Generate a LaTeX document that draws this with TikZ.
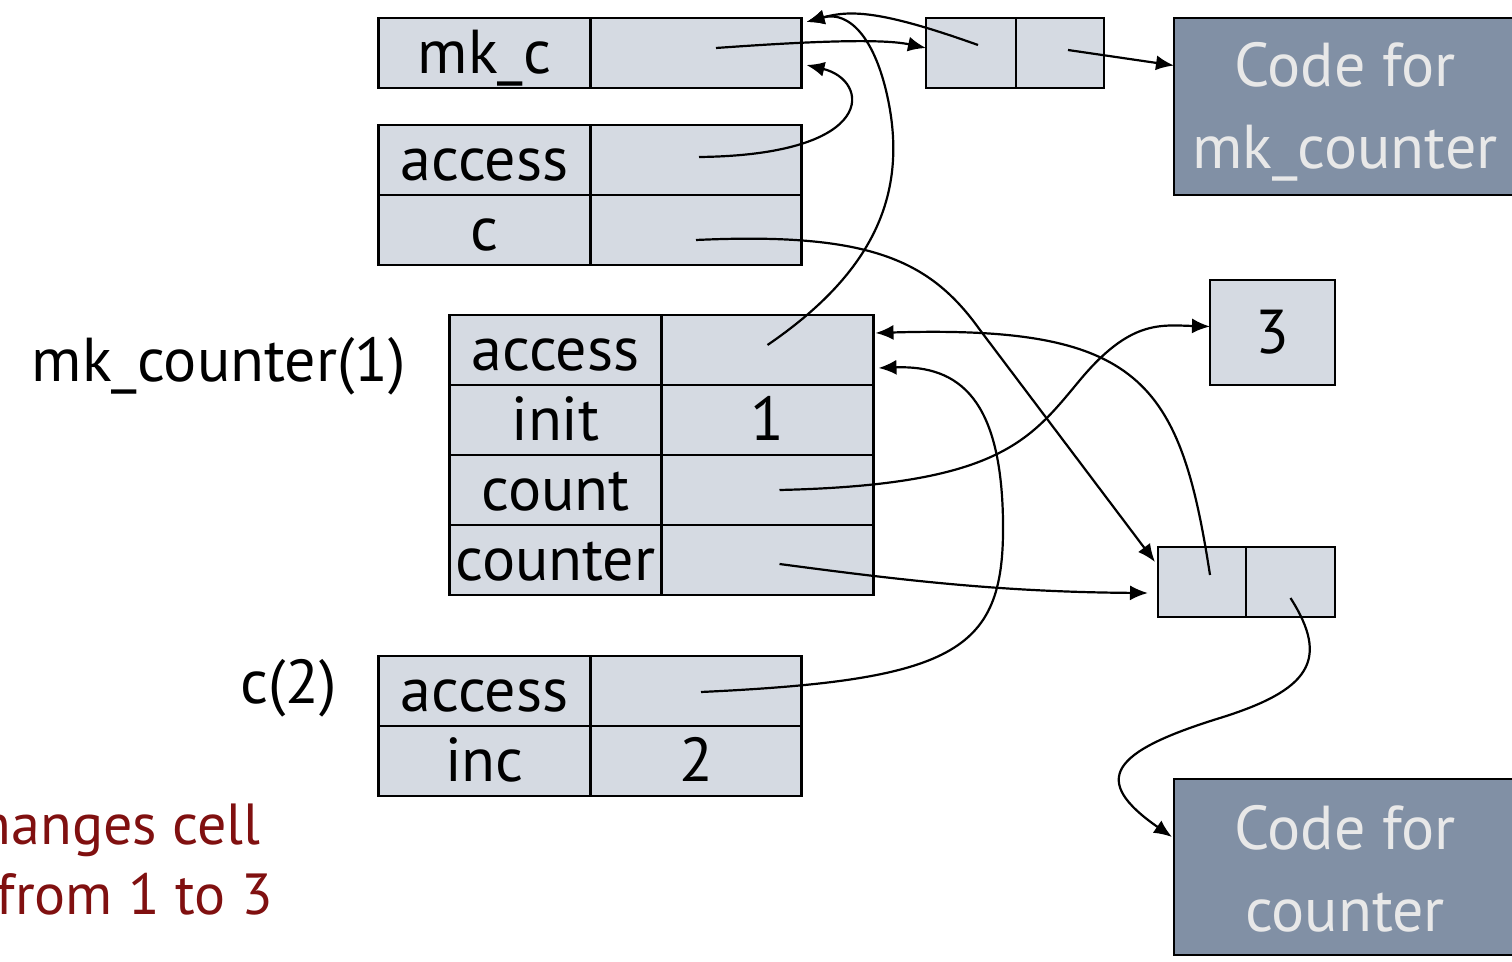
\documentclass[tikz,border=0pt]{standalone}
\usepackage{fontspec}
\setmainfont{PT Sans}
\usetikzlibrary{arrows.meta,positioning}

\definecolor{cellgray}{RGB}{213,218,226}
\definecolor{codeblue}{RGB}{129,144,165}
\definecolor{codetext}{RGB}{232,232,232}
\definecolor{notered}{RGB}{128,16,16}

\begin{document}
\begin{tikzpicture}[x=0.5pt,y=-0.5pt,>={Latex[length=9pt,width=7.5pt]},line width=1.2pt,
  every node/.style={font=\fontsize{31}{41}\selectfont},
  node distance=0pt]
  \tikzstyle{cell}=[draw,fill=cellgray,inner sep=0pt,outer sep=0pt,minimum width=106pt,
    minimum height=35pt,text height=26pt,text depth=5pt]
  \tikzstyle{half}=[cell,minimum width=44pt]
  \tikzstyle{code}=[draw,fill=codeblue,text=codetext,inner sep=0pt,outer sep=0pt,
    minimum width=171pt,align=center]
  \tikzstyle{note}=[text=notered,inner sep=0pt,anchor=base east,font=\fontsize{29}{35}\selectfont]
  \tikzstyle{ptr}=[->,line width=1.1pt]

  \useasboundingbox (0,0) rectangle (1512,962);
  \clip (0,0) rectangle (1512,962);

  % mk_c
  \node[cell] (mkcN) at (484.5,53) {mk\_c};
  \node[cell,minimum width=105.5pt] (mkcV) [right=of mkcN] {};

  % access / c
  \node[cell] (acN) at (484.5,160) {access};
  \node[cell,minimum width=105.5pt] (acV) [right=of acN] {};
  \node[cell] (cN)  [below=of acN] {c};
  \node[cell,minimum width=105.5pt] (cV)  [right=of cN] {};

  % frame of mk_counter(1)
  \node (mkLabel) [inner sep=0pt,anchor=east] at (407,366) {mk\_counter(1)};
  \node[cell] (fAccN) at (555.5,350) {access};
  \node[cell] (fAccV) [right=of fAccN] {};
  \node[cell] (fInitN) [below=of fAccN] {init};
  \node[cell] (fInitV) [right=of fInitN] {1};
  \node[cell] (fCountN) [below=of fInitN] {count};
  \node[cell] (fCountV) [right=of fCountN] {};
  \node[cell] (fCounterN) [below=of fCountN] {counter};
  \node[cell] (fCounterV) [right=of fCounterN] {};

  % frame of c(2)
  \node (cLabel) [inner sep=0pt,anchor=east] at (338,688) {c(2)};
  \node[cell] (c2AccN) at (484.5,691) {access};
  \node[cell,minimum width=105.5pt] (c2AccV) [right=of c2AccN] {};
  \node[cell] (c2IncN) [below=of c2AccN] {inc};
  \node[cell,minimum width=105.5pt] (c2IncV) [right=of c2IncN] {2};

  % closures and cells
  \node[half,minimum width=45pt] (tpL) at (971,53) {};
  \node[half] (tpR) [right=of tpL] {};
  \node[half] (bpL) at (1202,582) {};
  \node[half,minimum width=44.5pt] (bpR) [right=of bpL] {};
  \node[cell,minimum width=62.5pt,minimum height=52.5pt] (three) at (1272.5,332.5) {3};

  \node[code,minimum height=88.5pt] (codeMk) at (1345,106.5) {\rule{0pt}{27pt}Code for\\mk\_counter};
  \node[code,minimum height=88pt] (codeC) at (1345,867) {\rule{0pt}{24pt}Code for\\counter};

  \node[note] (noteA) at (262,845) {changes cell};
  \node[note] (noteB) at (274,914) {from 1 to 3};

  % pointers
  \draw[ptr] ([shift={(20,-5)}]mkcV.center) .. controls (800,42) and (880,38) .. ([shift={(0,-5)}]tpL.west);
  \draw[ptr] ([shift={(7,-8)}]tpL.center) .. controls (880,10) and (850,10) .. ([shift={(5,4)}]mkcV.north east);
  \draw[ptr] ([shift={(8,-3)}]tpR.center) -- ([shift={(0,-41)}]codeMk.west);
  \draw[ptr] ([shift={(3,-3)}]acV.center) .. controls (880,155) and (870,80) .. ([shift={(5,-23)}]mkcV.south east);
  \draw[ptr] ([shift={(0,10)}]cV.center) .. controls (870,232) and (930,260) .. (980,330)
    -- ([shift={(-3,15)}]bpL.north west);
  \draw[ptr] ([shift={(0,-5)}]fAccV.center) .. controls (870,275) and (905,200) .. (890,110)
    .. controls (878,40) and (850,10) .. ([shift={(5,4)}]mkcV.north east);
  \draw[ptr] ([shift={(8,-7)}]bpL.center) .. controls (1180,380) and (1140,325) .. ([shift={(2,-17)}]fAccV.east);
  \draw[ptr] ([shift={(5,1)}]c2AccV.center) .. controls (960,680) and (1005,650) .. (1003,520)
    .. controls (1001,400) and (960,365) .. ([shift={(5,-17)}]fAccV.south east);
  \draw[ptr] ([shift={(12,0)}]fCountV.center) .. controls (1000,485) and (1030,440) .. (1080,380)
    .. controls (1130,320) and (1160,325) .. ([shift={(0,-6)}]three.west);
  \draw[ptr] ([shift={(12,4)}]fCounterV.center) .. controls (900,580) and (1000,592) .. ([shift={(-10,11)}]bpL.west);
  \draw[ptr] ([shift={(0,16)}]bpR.center) .. controls (1330,660) and (1310,690) .. (1220,718)
    .. controls (1110,752) and (1090,780) .. ([shift={(-2,-30)}]codeC.west);
\end{tikzpicture}
\end{document}
